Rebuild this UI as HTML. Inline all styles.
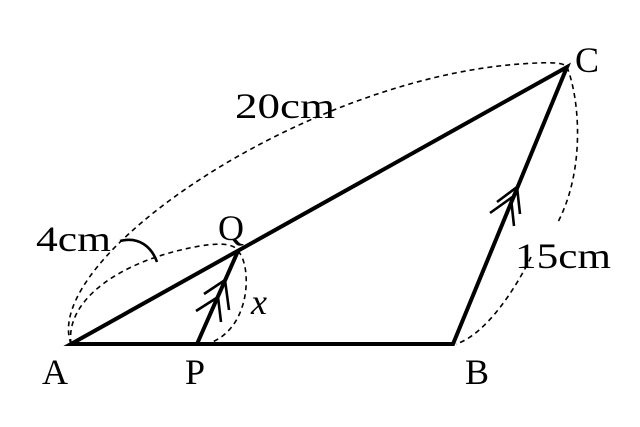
<!DOCTYPE html>
<html><head><style>
html,body{margin:0;padding:0;background:#fff;}
svg{display:block}
text{font-family:"Liberation Serif",serif;font-size:36px;fill:#000}
</style></head><body>
<svg width="640" height="427" viewBox="0 0 640 427">
<g fill="none" stroke="#000" stroke-width="1.6" stroke-dasharray="5,4">
<path d="M71,344 C40,260 300,80 520,64 C550,62 563,62 567,67"/>
<path d="M567,67 C580,100 585,170 558,222"/>
<path d="M531,257 C515,290 485,335 456,344"/>
<path d="M71,344 C65,300 120,260 200,246 C225,242 235,245 238,251"/>
<path d="M238,251 C252,265 252,330 207,344"/>
</g>
<g fill="none" stroke="#000" stroke-width="4" stroke-linecap="round">
<path d="M71,344 L453,344 L567,67 L71,344 Z" stroke-linejoin="miter" stroke-linecap="butt"/>
<path d="M197,344 L238,251"/>
</g>
<g fill="none" stroke="#000" stroke-width="2.6">
<path d="M204,294 L225,280 L229,310"/>
<path d="M196,311 L218,297 L221,322"/>
<path d="M497,202 L517,187 L520,214"/>
<path d="M490,213 L511,198 L514,226"/>
<path d="M120,241 C140,236 152,248 157,262"/>
</g>
<text x="235" y="118" textLength="100" lengthAdjust="spacingAndGlyphs">20cm</text>
<text x="36" y="251" textLength="75" lengthAdjust="spacingAndGlyphs">4cm</text>
<text x="515" y="268" textLength="96" lengthAdjust="spacingAndGlyphs">15cm</text>
<text x="42" y="384">A</text>
<text x="185" y="384">P</text>
<text x="465" y="384">B</text>
<text x="575" y="72">C</text>
<text x="218" y="240">Q</text>
<text x="251" y="314" font-style="italic" font-size="40">x</text>
</svg>
</body></html>
